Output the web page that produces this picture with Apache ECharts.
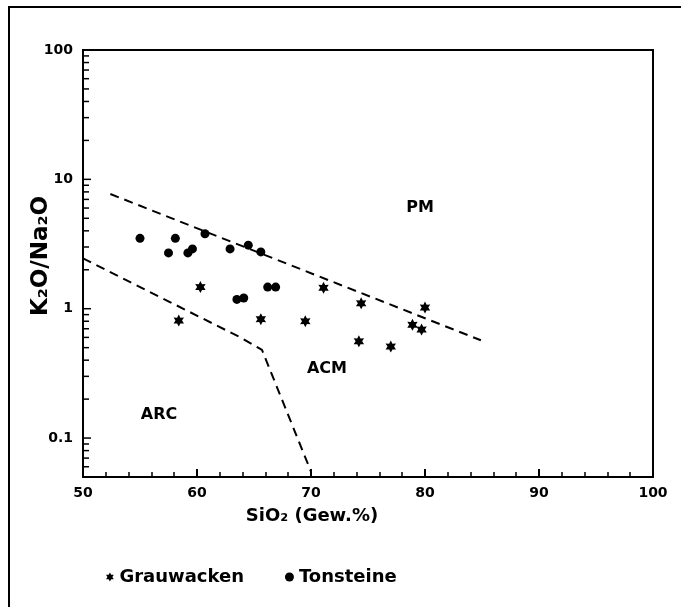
<!DOCTYPE html>
<html>
<head>
<meta charset="utf-8">
<script src="https://cdn.jsdelivr.net/npm/echarts@6/dist/echarts.min.js"></script>
<style>
  html, body { margin: 0; padding: 0; background: #fff; }
  #chart { width: 681px; height: 607px; }
</style>
</head>
<body>
<div id="chart"></div>
<script>
// ---- data ----
var grauwackenX = [60.3, 58.4, 65.6, 69.5, 71.1, 74.4, 80.0, 78.9, 79.7, 74.2, 77.0];
var grauwackenY = [1.47, 0.81, 0.83, 0.80, 1.45, 1.10, 1.02, 0.75, 0.69, 0.56, 0.51];
var tonsteineX = [55.0, 58.1, 57.5, 59.2, 59.6, 60.7, 62.9, 64.5, 65.6, 63.5, 64.1, 66.2, 66.9];
var tonsteineY = [3.5, 3.5, 2.7, 2.7, 2.9, 3.8, 2.9, 3.1, 2.75, 1.18, 1.21, 1.47, 1.47];
// boundary lines
var pmLineX = [52.4, 84.9];
var pmLineY = [7.7, 0.57];
var arcLineX = [50.0, 63.8, 65.7, 70.0];
var arcLineY = [2.45, 0.60, 0.48, 0.055];
// axes
var xTicks = [50, 60, 70, 80, 90, 100];
var yTickLabels = ['0.1', '1', '10', '100'];
var yMajor = [0.1, 1, 10, 100];
var yMinor = [0.06, 0.07, 0.08, 0.09, 0.2, 0.3, 0.4, 0.5, 0.6, 0.7, 0.8, 0.9,
              2, 3, 4, 5, 6, 7, 8, 9, 20, 30, 40, 50, 60, 70, 80, 90];
var seriesNames = ['Grauwacken', 'Tonsteine'];
var regionLabels = ['PM', 'ACM', 'ARC'];
var xTitle = 'SiO₂ (Gew.%)';
var yTitle = 'K₂O/Na₂O';

var FONT = 'DejaVu Sans';
var STAR = 'path://M10 0 L12.75 5.24 L18.66 5 L15.5 10 L18.66 15 L12.75 14.76 L10 20 L7.25 14.76 L1.34 15 L4.5 10 L1.34 5 L7.25 5.24 Z';

function zip(a, b) { return a.map(function (v, i) { return [v, b[i]]; }); }

var tickData = yMajor.map(function (v) { return [xTicks[0], v, 1]; })
  .concat(yMinor.map(function (v) { return [xTicks[0], v, 0]; }));

var chart = echarts.init(document.getElementById('chart'), null, { renderer: 'canvas' });

var option = {
  animation: false,
  backgroundColor: '#fff',
  grid: { left: 83, top: 50, right: 28, bottom: 130, show: true, borderColor: '#000', borderWidth: 2 },
  xAxis: {
    type: 'value', min: xTicks[0], max: xTicks[xTicks.length - 1], interval: 10,
    axisLine: { lineStyle: { color: '#000', width: 2 } },
    axisTick: { inside: true, length: 8, lineStyle: { color: '#000', width: 2 } },
    minorTick: { show: true, splitNumber: 5, length: 5, lineStyle: { color: '#000', width: 1.5 } },
    splitLine: { show: false },
    axisLabel: { color: '#000', fontFamily: FONT, fontWeight: 'bold', fontSize: 14, margin: 9 }
  },
  yAxis: {
    type: 'log', logBase: 10, min: 0.05, max: 100,
    axisLine: { lineStyle: { color: '#000', width: 2 } },
    axisTick: { show: false },
    splitLine: { show: false },
    axisLabel: {
      color: '#000', fontFamily: FONT, fontWeight: 'bold', fontSize: 14, margin: 10,
      showMinLabel: true, showMaxLabel: true,
      formatter: function (v) {
        for (var i = 0; i < yMajor.length; i++) {
          if (Math.abs(Math.log10(v) - Math.log10(yMajor[i])) < 1e-6) return yTickLabels[i];
        }
        return '';
      }
    }
  },
  legend: {
    data: [
      { name: seriesNames[0], icon: STAR },
      { name: seriesNames[1], icon: 'circle' }
    ],
    left: 101, top: 563, itemGap: 41, itemWidth: 9, itemHeight: 9,
    textStyle: { color: '#000', fontFamily: FONT, fontWeight: 'bold', fontSize: 18 },
    selectedMode: false
  },
  series: [
    {
      name: seriesNames[0], type: 'scatter', data: zip(grauwackenX, grauwackenY),
      symbol: STAR, symbolSize: 12, symbolKeepAspect: true,
      itemStyle: { color: '#000', opacity: 1 }, z: 5
    },
    {
      name: seriesNames[1], type: 'scatter', data: zip(tonsteineX, tonsteineY),
      symbol: 'circle', symbolSize: 9,
      itemStyle: { color: '#000', opacity: 1 }, z: 5
    },
    {
      name: 'PM boundary', type: 'line', data: zip(pmLineX, pmLineY), symbol: 'none',
      lineStyle: { color: '#000', width: 2, type: [9, 6] }, z: 3
    },
    {
      name: 'ARC boundary', type: 'line', data: zip(arcLineX, arcLineY), symbol: 'none',
      lineStyle: { color: '#000', width: 2, type: [9, 6] }, z: 3
    },
    {
      name: 'ticks', type: 'custom', data: tickData, clip: false, silent: true,
      encode: { x: 0, y: 1 },
      renderItem: function (params, api) {
        var p = api.coord([api.value(0), api.value(1)]);
        var len = api.value(2) ? 8 : 6;
        return {
          type: 'line',
          shape: { x1: p[0], y1: p[1], x2: p[0] + len, y2: p[1] },
          style: { stroke: '#000', lineWidth: 1.5 }
        };
      }
    }
  ],
  graphic: [
    { type: 'line', shape: { x1: 8, y1: 7, x2: 681, y2: 7 }, style: { stroke: '#000', lineWidth: 2 } },
    { type: 'line', shape: { x1: 9, y1: 7, x2: 9, y2: 607 }, style: { stroke: '#000', lineWidth: 2 } },
    { type: 'text', x: 41, y: 256, rotation: Math.PI / 2,
      style: { text: yTitle, fill: '#000', font: 'bold 23px "DejaVu Sans"', align: 'center', verticalAlign: 'middle' } },
    { type: 'text', x: 312, y: 516,
      style: { text: xTitle, fill: '#000', font: 'bold 18px "DejaVu Sans"', align: 'center', verticalAlign: 'middle' } },
    { type: 'text', x: 420, y: 208,
      style: { text: regionLabels[0], fill: '#000', font: 'bold 16px "DejaVu Sans"', align: 'center', verticalAlign: 'middle' } },
    { type: 'text', x: 327, y: 369,
      style: { text: regionLabels[1], fill: '#000', font: 'bold 16px "DejaVu Sans"', align: 'center', verticalAlign: 'middle' } },
    { type: 'text', x: 159, y: 415,
      style: { text: regionLabels[2], fill: '#000', font: 'bold 16px "DejaVu Sans"', align: 'center', verticalAlign: 'middle' } }
  ]
};
chart.setOption(option);
</script>
</body>
</html>
